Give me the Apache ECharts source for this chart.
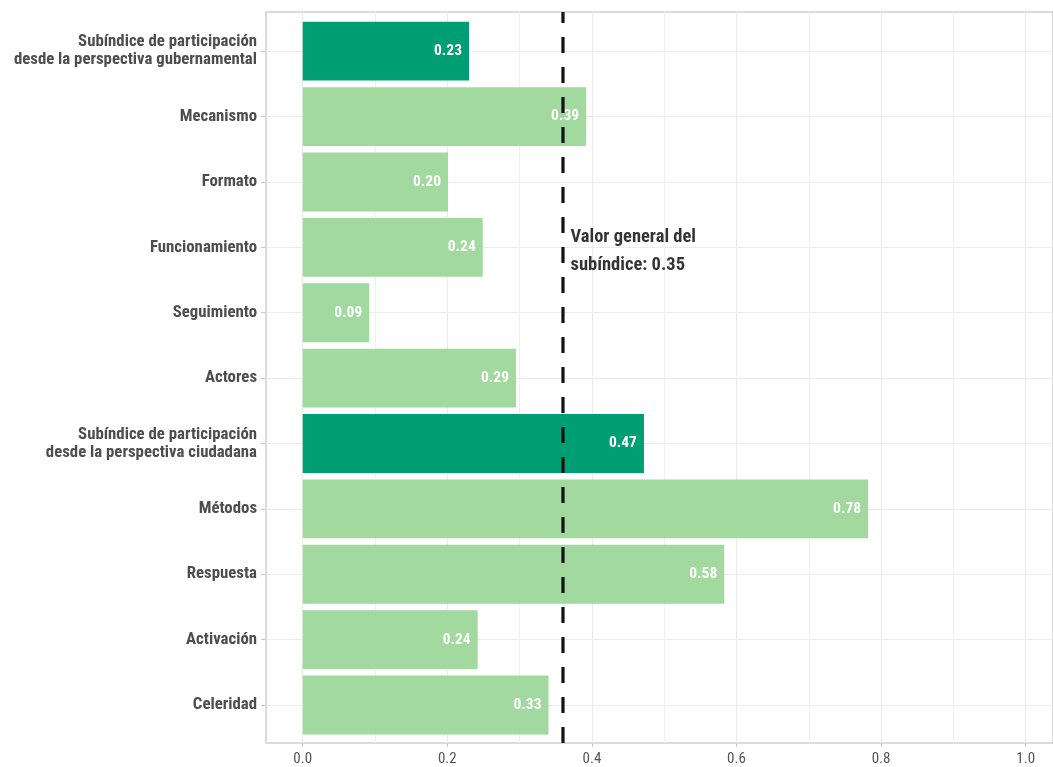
<!DOCTYPE html>
<html>
<head>
<meta charset="utf-8">
<script src="https://cdn.jsdelivr.net/npm/echarts@6/dist/echarts.min.js"></script>
<style>
html,body{margin:0;padding:0;background:#ffffff;}
#chart{width:1053px;height:767px;}
</style>
</head>
<body>
<div id="chart"></div>
<script>
// ---- data ----
const categories = [
  'Subíndice de participación\ndesde la perspectiva gubernamental',
  'Mecanismo',
  'Formato',
  'Funcionamiento',
  'Seguimiento',
  'Actores',
  'Subíndice de participación\ndesde la perspectiva ciudadana',
  'Métodos',
  'Respuesta',
  'Activación',
  'Celeridad'
];
const values = [0.230, 0.392, 0.201, 0.249, 0.092, 0.295, 0.472, 0.782, 0.583, 0.242, 0.340];
const valueLabels = ['0.23', '0.39', '0.20', '0.24', '0.09', '0.29', '0.47', '0.78', '0.58', '0.24', '0.33'];
const isSubindex = [true, false, false, false, false, false, true, false, false, false, false];
const xMin = 0;
const xMax = 1;
const xInterval = 0.2;
const refLineValue = 0.36;
const refLabelText = 'Valor general del\nsubíndice: 0.35';
const refLabelCategory = 'Funcionamiento';

// ---- styles ----
const FONT = "'Roboto Condensed','Liberation Sans Narrow','Roboto',sans-serif";
const DARK = '#009E73';
const LIGHT = '#A1D99F';
const GRID_COLOR = '#ebebeb';

const chart = echarts.init(document.getElementById('chart'), null, {renderer: 'canvas'});

const option = {
  animation: false,
  backgroundColor: '#ffffff',
  textStyle: {fontFamily: FONT},
  grid: [
    {left: 266, right: -9, top: 12, bottom: 24, show: true, borderColor: '#cfcfcf', borderWidth: 1.5, backgroundColor: 'transparent'},
    {left: 302.7, right: 27.3, top: 12, bottom: 24},
    {left: 266, right: -9, top: 51.2, bottom: 62},
    {left: 302.7, right: 27.3, top: 18.5, bottom: 29.3}
  ],
  xAxis: [
    {gridIndex: 0, type: 'value', show: false, min: xMin, max: xMax},
    {
      gridIndex: 1, type: 'value', min: xMin, max: xMax, interval: xInterval,
      axisLine: {show: false},
      axisTick: {show: true, length: 4, lineStyle: {color: '#c8c8c8', width: 1}},
      axisLabel: {color: '#555555', fontSize: 15, fontFamily: FONT, margin: 9, formatter: v => v.toFixed(1)},
      splitLine: {show: true, lineStyle: {color: GRID_COLOR, width: 1}},
      minorTick: {show: false, splitNumber: 2},
      minorSplitLine: {show: true, lineStyle: {color: '#f0f0f0', width: 1}}
    },
    {gridIndex: 2, type: 'value', show: false, min: xMin, max: xMax},
    {gridIndex: 3, type: 'value', show: false, min: xMin, max: xMax}
  ],
  yAxis: [
    {gridIndex: 0, type: 'value', show: false, min: 0, max: 1},
    {gridIndex: 1, type: 'value', show: false, min: 0, max: 1},
    {
      gridIndex: 2, type: 'category', data: categories, inverse: true, boundaryGap: false,
      axisLine: {show: false},
      axisTick: {show: true, length: 5, lineStyle: {color: '#c8c8c8', width: 1}},
      axisLabel: {color: '#4d4d4d', fontSize: 16.8, fontWeight: 'bold', fontFamily: FONT, lineHeight: 18, margin: 9, padding: [4, 0, 0, 0]},
      splitLine: {show: true, lineStyle: {color: GRID_COLOR, width: 1}}
    },
    {gridIndex: 3, type: 'category', data: categories, inverse: true, show: false}
  ],
  series: [
    {
      type: 'bar', xAxisIndex: 3, yAxisIndex: 3,
      barCategoryGap: '10%',
      data: values.map((v, i) => ({value: v, itemStyle: {color: isSubindex[i] ? DARK : LIGHT}})),
      label: {
        show: true, position: 'insideRight', distance: 7,
        color: '#ffffff', fontWeight: 'bold', fontSize: 15.5, fontFamily: FONT,
        formatter: p => valueLabels[p.dataIndex]
      },
      z: 2
    },
    {
      type: 'line', xAxisIndex: 1, yAxisIndex: 1,
      data: [[refLineValue, 0], [refLineValue, 1]],
      symbol: 'none',
      lineStyle: {color: '#111111', width: 3.2, type: [16, 14]},
      z: 10, silent: true
    },
    {
      type: 'scatter', xAxisIndex: 3, yAxisIndex: 3,
      data: [[refLineValue, refLabelCategory]],
      symbolSize: 1,
      itemStyle: {color: 'rgba(0,0,0,0)'},
      label: {
        show: true, position: 'right', distance: 7, offset: [0, 4],
        formatter: refLabelText,
        color: '#000000', fontWeight: 'bold', fontSize: 18.5, fontFamily: FONT, lineHeight: 28, align: 'left'
      },
      z: 11, silent: true
    }
  ]
};
chart.setOption(option);
</script>
</body>
</html>
